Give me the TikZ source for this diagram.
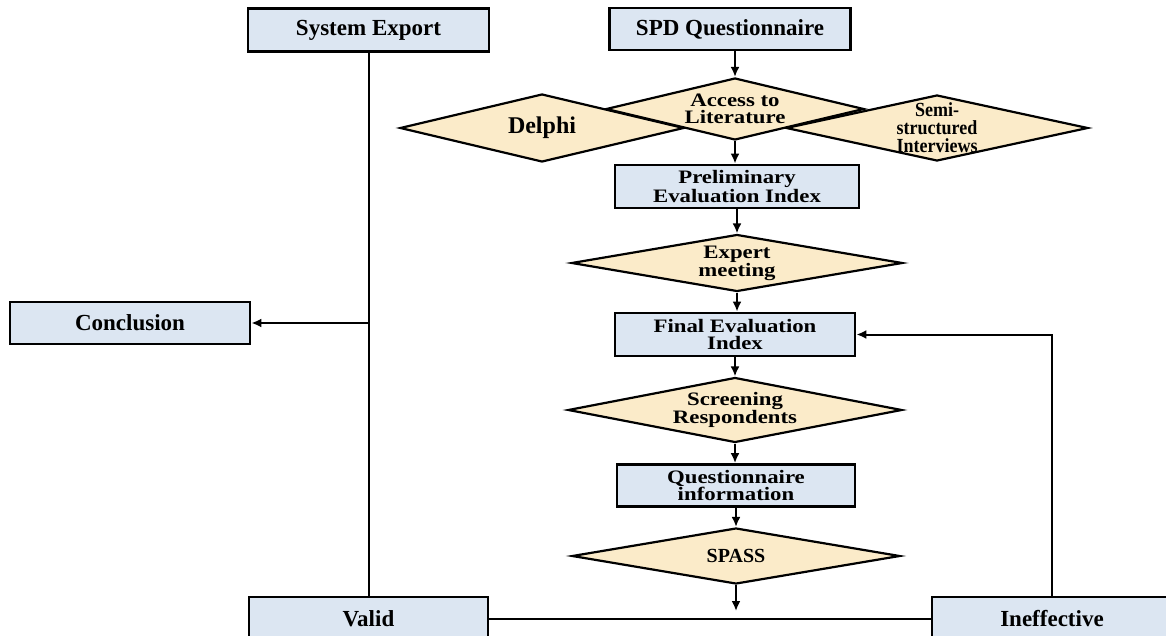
\documentclass[tikz,border=0pt]{standalone}
\usepackage{fontspec}
\setmainfont{Liberation Serif}
\newfontfamily\wideserif{Liberation Serif}[FakeStretch=1.2]
\newfontfamily\tallserif{Liberation Serif}[FakeStretch=0.9]
\usetikzlibrary{shapes.geometric,arrows.meta}

\definecolor{boxblue}{HTML}{DCE6F2}
\definecolor{diamondtan}{HTML}{FBEBC9}

\begin{document}
\begin{tikzpicture}[x=1pt, y=-1pt, > = {Latex[length=10pt,width=9pt]}]
    \tikzset{
      block/.style={
        draw, rectangle, line width=2.8pt, fill=boxblue, inner sep=0pt,
        minimum width=241pt, minimum height=43pt,
        font=\fontsize{23}{23}\selectfont\bfseries
      },
      twoline/.style={
        align=center, font=\wideserif\fontsize{19}{17}\selectfont\bfseries
      },
      decision/.style={
        draw, diamond, line width=2.2pt, fill=diamondtan, inner sep=0pt,
        aspect=5
      },
      link/.style={line width=2pt}
    }
    \clip (0,0) rectangle (1166,636);
    % blocks
    \node (sysexp) [block] at (368.5,30) {System Export};
    \node (spdq) [block, minimum height=42pt] at (730,29) {SPD Questionnaire};
    \node (conclusion) [block, minimum width=240pt, minimum height=42pt] at (130,323) {Conclusion};
    \node (delphi) [decision, minimum width=284pt, minimum height=68pt, font=\fontsize{24}{24}\selectfont\bfseries] at (542,128) {Delphi};
    \node (semi) [decision, inner sep=-12pt, minimum width=302pt, minimum height=66pt, align=center, font=\tallserif\fontsize{20}{18}\selectfont\bfseries] at (937,128) {Semi-\\structured\\Interviews};
    \node (access) [decision, twoline, minimum width=258pt, minimum height=62pt] at (735,109) {Access to\\Literature};
    \node (prelim) [block, twoline, minimum width=244pt] at (737,186.5) {Preliminary\\Evaluation Index};
    \node (expert) [decision, twoline, minimum width=331pt, minimum height=57pt] at (737,263) {Expert\\meeting};
    \node (final) [block, twoline, minimum width=240pt] at (735,334.5) {Final Evaluation\\Index};
    \node (screen) [decision, twoline, minimum width=334pt, minimum height=65pt] at (735,410) {Screening\\Respondents};
    \node (qinfo) [block, twoline, minimum width=238pt, minimum height=42pt] at (736,485.5) {Questionnaire\\information};
    \node (spass) [decision, minimum width=328pt, minimum height=56pt, font=\fontsize{20}{20}\selectfont\bfseries] at (736,556) {SPASS};
    \node (valid) [block, minimum width=239pt] at (368.5,618.5) {Valid};
    \node (ineff) [block, minimum width=240pt] at (1052,618.5) {Ineffective};
    \coordinate (spassend) at (736,611);
    % arrows
    \draw[->, link] (access.north |- spdq.south) -- (access.north);
    \foreach \from/\to in {access/prelim, prelim/expert, expert/final, final/screen, screen/qinfo, qinfo/spass} {
      \draw[->, link] (\from.south) -- (\from.south |- \to.north);
    }
    \draw[->, link] (spass.south) -- (spassend);
    \draw[link] (sysexp.south) -- (valid.north);
    \draw[->, link] (sysexp.south |- conclusion.east) -- (conclusion.east);
    \draw[link] (valid.east) -- (ineff.west);
    \draw[->, link] (ineff.north) |- (final.east);
\end{tikzpicture}
\end{document}
